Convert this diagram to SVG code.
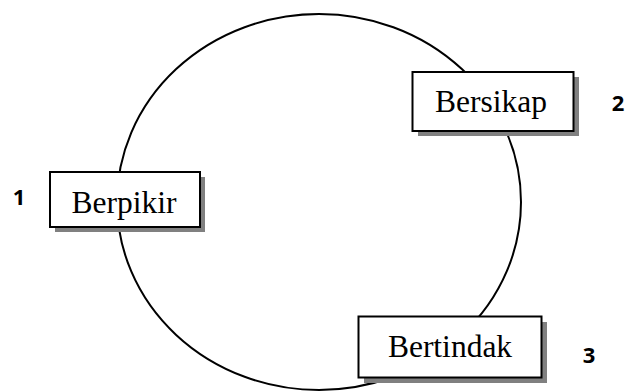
<svg xmlns="http://www.w3.org/2000/svg" width="627" height="392" viewBox="0 0 627 392">
<style>
.box{fill:#fff;stroke:#000;stroke-width:2}
.shadow{fill:#808080}
.lbl{font-family:"Liberation Serif","Times New Roman",serif;font-size:31.5px;fill:#000;text-anchor:middle}
.num{font-family:"Open Sans","Liberation Sans",sans-serif;font-weight:bold;font-size:22px;fill:#000;text-anchor:middle}
.cyc{fill:none;stroke:#000;stroke-width:2}
</style>
<rect width="627" height="392" fill="#fff"/>
<g id="connectors">
<ellipse class="cyc" cx="319" cy="202" rx="202" ry="188"/>
</g>
<g id="berpikir">
<rect class="shadow" x="55" y="177" width="150" height="55"/>
<rect class="box" x="50" y="172" width="150" height="55"/>
<text class="lbl" x="124" y="213">Berpikir</text>
<text class="num" x="19" y="205">1</text>
</g>
<g id="bersikap">
<rect class="shadow" x="418" y="77" width="161" height="59"/>
<rect class="box" x="412.5" y="72" width="161" height="59"/>
<text class="lbl" x="491" y="112">Bersikap</text>
<text class="num" x="618" y="111">2</text>
</g>
<g id="bertindak">
<rect class="shadow" x="364" y="322" width="183" height="61"/>
<rect class="box" x="358.5" y="316.5" width="183" height="61"/>
<text class="lbl" x="450" y="357">Bertindak</text>
<text class="num" x="589" y="363">3</text>
</g>
</svg>
